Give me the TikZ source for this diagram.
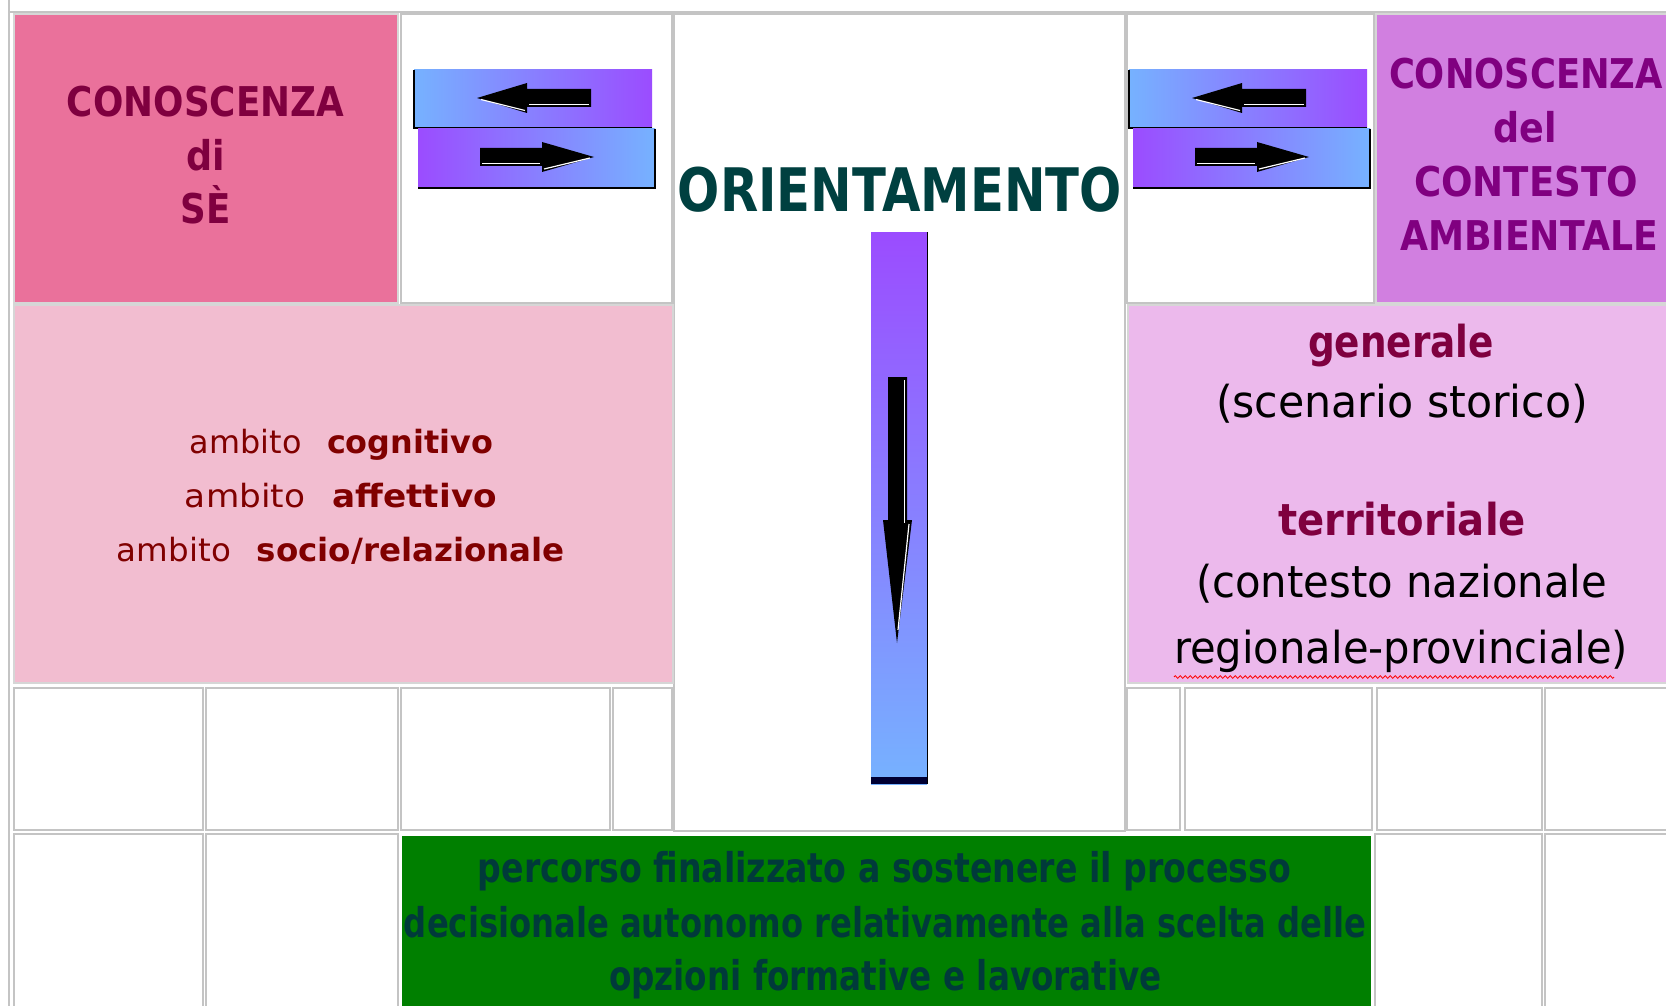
\documentclass[tikz,border=0pt]{standalone}
\usepackage{fontspec}
\setmainfont{DejaVu Sans}
\usepackage{graphicx}
\usetikzlibrary{decorations.pathmorphing}
\newcommand{\hfit}[2]{\resizebox{#1}{\height}{#2}}
\definecolor{cellgray}{HTML}{C4C4C4}
\definecolor{pinkA}{HTML}{EA719B}
\definecolor{violetB}{HTML}{D17FE0}
\definecolor{palepink}{HTML}{F2BDD0}
\definecolor{paleviolet}{HTML}{ECB9EC}
\definecolor{greenC}{HTML}{007F00}
\definecolor{tealtext}{HTML}{003A3A}
\definecolor{maroonA}{HTML}{7F003F}
\definecolor{purpleB}{HTML}{800080}
\definecolor{darkredC}{HTML}{800000}
\definecolor{orient}{HTML}{004040}
\definecolor{barblue}{HTML}{76B2FF}
\definecolor{barpurple}{HTML}{9B4CFF}
\newcommand{\arrowpair}[1]{%
\begin{scope}[shift={(#1,0)}]
  \shade[left color=barblue, right color=barpurple] (414,70) rectangle (652,128);
  \draw[black, line width=1pt] (414,70) -- (414,128) -- (652,128);
  \shade[left color=barpurple, right color=barblue] (418,129) rectangle (655,188);
  \draw[black, line width=1pt] (655,129) -- (655,188) -- (418,188);
  \fill[black] (477,98) -- (527,83) -- (527,89) -- (591,89) -- (591,107) -- (527,107) -- (527,113) -- cycle;
  \draw[hilite] (481,99.5) -- (525,110.5);
  \draw[hilite] (529,104.5) -- (589,104.5);
  \fill[black] (480,148) -- (542,148) -- (542,142) -- (594,157) -- (542,172) -- (542,166) -- (480,166) -- cycle;
  \draw[hilite] (482,163.5) -- (540,163.5);
  \draw[hilite] (544,169) -- (590,158);
\end{scope}}
\begin{document}
\begin{tikzpicture}[x=0.5pt,y=-0.5pt,
  txt/.style={inner sep=0pt, anchor=base},
  cellbox/.style={draw=cellgray, line width=1.1pt},
  colbox/.style={draw=cellgray!70, line width=0.6pt},
  hilite/.style={white, line width=0.6pt},
  capsA/.style={txt, font=\fontsize{20.5}{24}\selectfont\bfseries, text=maroonA},
  capsB/.style={txt, font=\fontsize{20.5}{24}\selectfont\bfseries, text=purpleB},
  leftline/.style={txt, font=\fontsize{16}{19}\selectfont, text=darkredC},
  rightline/.style={txt, font=\fontsize{22}{26}\selectfont, text=black},
  rightbold/.style={txt, font=\fontsize{22}{26}\selectfont\bfseries, text=maroonA},
  greenline/.style={txt, font=\fontsize{20.5}{24}\selectfont\bfseries, text=tealtext}]
\useasboundingbox (0,0) rectangle (1666,1006);
\clip (0,0) rectangle (1666,1006);
\fill[white] (0,0) rectangle (1666,1006);
% outer table border
\draw[cellgray, line width=1pt] (9,0) -- (9,1006);
\draw[cellgray, line width=1pt] (9,12) -- (1666,12);
% row 1
\fill[pinkA, colbox] (14,14) rectangle (398,303);
\draw[cellbox] (401,14) rectangle (672,303);
\draw[cellbox] (674,14) rectangle (1125,831);
\draw[cellbox] (1127,14) rectangle (1374,303);
\fill[violetB, colbox] (1376,14) rectangle (1690,303);
% row 2
\fill[palepink, colbox] (14,305) rectangle (673,683);
\fill[paleviolet, colbox] (1128,305) rectangle (1690,683);
% row 3
\draw[cellbox] (14,688) rectangle (203,830);
\draw[cellbox] (206,688) rectangle (398,830);
\draw[cellbox] (401,688) rectangle (610,830);
\draw[cellbox] (613,688) rectangle (672,830);
\draw[cellbox] (1127,688) rectangle (1180,830);
\draw[cellbox] (1185,688) rectangle (1372,830);
\draw[cellbox] (1377,688) rectangle (1542,830);
\draw[cellbox] (1545,688) rectangle (1690,830);
% row 4
\draw[cellbox] (14,834) rectangle (203,1020);
\draw[cellbox] (206,834) rectangle (398,1020);
\fill[greenC] (402,836) rectangle (1371,1020);
\draw[cellbox] (1375,834) rectangle (1542,1020);
\draw[cellbox] (1545,834) rectangle (1690,1020);
% double arrows
\arrowpair{0}
\arrowpair{715}
% vertical bar
\shade[top color=barpurple, bottom color=barblue, middle color=barpurple!50!barblue] (871,232) rectangle (927,784);
\fill[black!80!blue] (871,777) rectangle (928,784);
\draw[black, line width=0.6pt] (927.5,232) -- (927.5,784);
\fill[black] (888,377) -- (907,377) -- (907,520) -- (912,520) -- (897,643) -- (883,520) -- (888,520) -- cycle;
\draw[hilite] (904.5,380) -- (904.5,523);
\draw[hilite] (909,524) -- (898,630);
% texts
\node[capsA] (a1) at (205.5,117) {\hfit{138.5pt}{CONOSCENZA}};
\node[capsA] (a2) at (205.5,170) {\scalebox{0.89}[1]{di}};
\node[capsA] (a3) at (205.5,224) {\hfit{25pt}{SÈ}};
\node[capsB] (b1) at (1526,89) {\hfit{137pt}{CONOSCENZA}};
\node[capsB] (b2) at (1525,143) {\scalebox{0.89}[1]{del}};
\node[capsB] (b3) at (1526,197) {\hfit{112pt}{CONTESTO}};
\node[capsB] (b4) at (1529,250) {\hfit{129pt}{AMBIENTALE}};
\node[txt, font=\fontsize{30}{34}\selectfont\bfseries, text=orient] (or) at (900,212) {\hfit{222pt}{ORIENTAMENTO}};
\node[leftline] (l1) at (341.5,453) {\hfit{151.5pt}{ambito\hspace{0.8em}\textbf{cognitivo}}};
\node[leftline] (l2) at (341,507) {\hfit{156pt}{ambito\hspace{0.8em}\textbf{affettivo}}};
\node[leftline] (l3) at (341,561) {\hfit{224pt}{ambito\hspace{0.8em}\textbf{socio/relazionale}}};
\node[rightbold] (r1) at (1401,357) {\hfit{93pt}{generale}};
\node[rightline] (r2) at (1402,417) {\hfit{186pt}{(scenario storico)}};
\node[rightbold] (r3) at (1402,535) {\hfit{124pt}{territoriale}};
\node[rightline] (r4) at (1401.5,597) {\hfit{205.5pt}{(contesto nazionale}};
\node[rightline] (r5) at (1401,663) {\hfit{227pt}{regionale-provinciale)}};
\draw[red, line width=0.4pt, decorate, decoration={zigzag, segment length=2.5pt, amplitude=0.7pt}] (1174,677) -- (1614,677);
\node[greenline] (g1) at (884.5,882) {\hfit{406.5pt}{percorso finalizzato a sostenere il processo}};
\node[greenline] (g2) at (885,937) {\hfit{481pt}{decisionale autonomo relativamente alla scelta delle}};
\node[greenline] (g3) at (885.5,990) {\hfit{276.5pt}{opzioni formative e lavorative}};
\end{tikzpicture}
\end{document}
